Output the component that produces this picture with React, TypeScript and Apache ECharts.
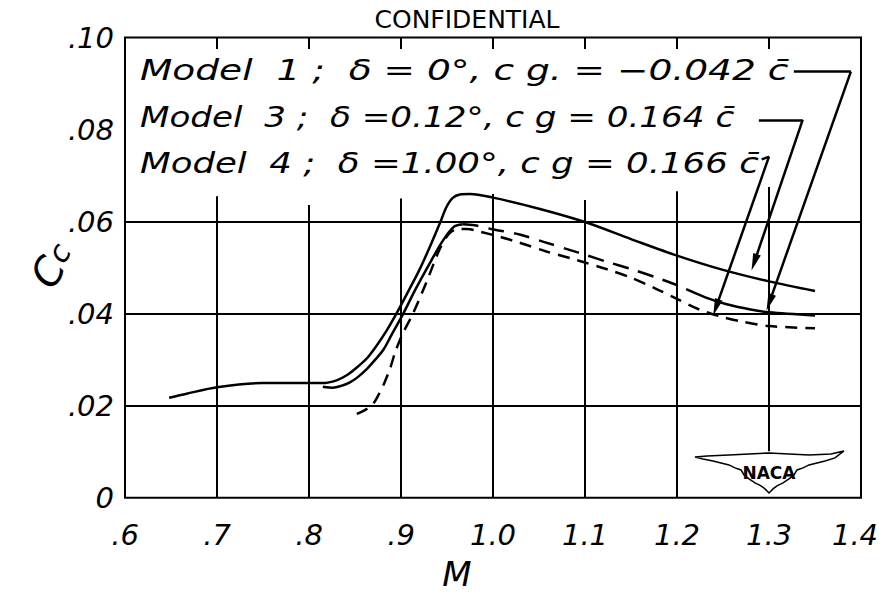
import React, { useEffect, useRef } from 'react';
import * as echarts from 'echarts';

// ---- tick labels ----
const xTickLabels = ['.6', '.7', '.8', '.9', '1.0', '1.1', '1.2', '1.3', '1.4'];
const yTickLabels = ['0', '.02', '.04', '.06', '.08', '.10'];

// ---- curves: [M, Cc] ----
// Model 3 (upper solid)
const model3Curve: [number, number][] = [
  [0.648, 0.0217], [0.667, 0.0226], [0.7, 0.024], [0.75, 0.0249], [0.8, 0.0249], [0.815, 0.0249],
  [0.83, 0.0255], [0.841, 0.0266], [0.852, 0.0283], [0.863, 0.0303], [0.874, 0.0332], [0.884, 0.0362],
  [0.895, 0.04], [0.907, 0.0445], [0.92, 0.0495], [0.932, 0.0548], [0.943, 0.06], [0.949, 0.063],
  [0.956, 0.0651], [0.964, 0.0659], [0.975, 0.066], [1.0, 0.0652], [1.05, 0.0628], [1.1, 0.0599],
  [1.15, 0.0562], [1.2, 0.0526], [1.25, 0.0495], [1.3, 0.047], [1.35, 0.0449],
];
// Model 1 (lower, solid rise, long dashes, solid tail)
const model1Rise: [number, number][] = [
  [0.815, 0.0241], [0.826, 0.0239], [0.835, 0.0243], [0.844, 0.025], [0.853, 0.0262], [0.863, 0.028],
  [0.872, 0.03], [0.881, 0.0322], [0.89, 0.0355], [0.9025, 0.04], [0.915, 0.045], [0.93, 0.0505],
  [0.945, 0.0557], [0.957, 0.0588], [0.967, 0.0594],
];
const model1Middle: [number, number][] = [
  [0.967, 0.0594], [0.98, 0.0592], [1.0, 0.0583], [1.029, 0.0572], [1.055, 0.0556], [1.084, 0.0538],
  [1.1, 0.0528], [1.123, 0.0513], [1.15, 0.0497], [1.178, 0.0478], [1.2, 0.0462], [1.21, 0.0453],
];
const model1Tail: [number, number][] = [
  [1.21, 0.0453], [1.23, 0.0436], [1.253, 0.0421], [1.28, 0.0409], [1.3, 0.0403], [1.35, 0.0396],
];
// Model 4 (short dashes)
const model4Curve: [number, number][] = [
  [0.852, 0.0182], [0.862, 0.0192], [0.87, 0.0205], [0.876, 0.0225], [0.882, 0.025], [0.888, 0.028],
  [0.894, 0.0318], [0.902, 0.0357], [0.913, 0.04], [0.928, 0.047], [0.942, 0.054], [0.952, 0.0573],
  [0.962, 0.0584], [0.972, 0.0584], [0.986, 0.0578], [1.009, 0.0566], [1.029, 0.0554], [1.058, 0.0535],
  [1.085, 0.052], [1.1, 0.0511], [1.123, 0.0497], [1.15, 0.0478], [1.175, 0.0456], [1.2, 0.0432],
  [1.223, 0.041], [1.245, 0.0395], [1.27, 0.0383], [1.3, 0.0373], [1.35, 0.0368],
];

// ---- grid pieces ----
const verticalGridTops: [number, number][] = [
  [0.7, 0.0655], [0.8, 0.0636], [0.9, 0.065], [1.0, 0.066], [1.1, 0.0647], [1.2, 0.0666],
];
const gridAt13: [number, number] = [0.0101, 0.0675];
const horizontalGrid = [0.02, 0.04, 0.06];
const topTicks = [0.7, 0.8, 0.9, 1.0, 1.1, 1.2, 1.3];
const topTickDepth = 0.0025;

// ---- leader lines from labels to curves [M, Cc] ----
const model1Leader: [number, number][] = [[1.327, 0.0926], [1.389, 0.0926], [1.2975, 0.0408]];
const model3Leader: [number, number][] = [[1.289, 0.0821], [1.3366, 0.0821], [1.2812, 0.0495]];
const model4Leader: [number, number][] = [[1.292, 0.0735], [1.3, 0.0741], [1.2395, 0.0397]];

const annotationTexts = [
  'Model  1 ;  δ = 0°, c g. = −0.042 c\u0304',
  'Model  3 ;  δ =0.12°, c g = 0.164 c\u0304',
  'Model  4 ;  δ =1.00°, c g = 0.166 c\u0304',
];
const titleText = 'CONFIDENTIAL';
const logoText = 'NACA';
const logoAnchor: [number, number] = [1.3, 0.0056];

const HAND = '"DejaVu Sans", sans-serif';

function leaderSegments(points: [number, number][]) {
  const segs: any[] = [];
  for (let i = 0; i < points.length - 1; i++) {
    const [x1, y1] = points[i];
    let [x2, y2] = points[i + 1];
    const last = i === points.length - 2;
    if (last) {
      const dxp = (x2 - x1) * 920;
      const dyp = (y2 - y1) * 4602;
      const len = Math.hypot(dxp, dyp);
      const back = 8;
      x2 = x2 - (dxp / len) * back / 920;
      y2 = y2 - (dyp / len) * back / 4602;
    }
    segs.push([
      { coord: [x1, y1], symbol: 'none' },
      last
        ? { coord: [x2, y2], symbol: 'triangle', symbolSize: [8, 17] }
        : { coord: [x2, y2], symbol: 'none' },
    ]);
  }
  return segs;
}

export default function App() {
  const ref = useRef<HTMLDivElement>(null);
  useEffect(() => {
    document.body.style.margin = '0';
    if (!ref.current) return;
    const chart = echarts.init(ref.current, null, { renderer: 'svg' });

    const gridLines: any[] = [
      ...verticalGridTops.map(([m, top]) => [{ coord: [m, 0] }, { coord: [m, top] }]),
      [{ coord: [1.3, gridAt13[0]] }, { coord: [1.3, gridAt13[1]] }],
      ...horizontalGrid.map((c) => [{ coord: [0.6, c] }, { coord: [1.4, c] }]),
      ...topTicks.map((m) => [{ coord: [m, 0.1] }, { coord: [m, 0.1 - topTickDepth] }]),
    ];

    const leaders: any[] = [
      ...leaderSegments(model1Leader),
      ...leaderSegments(model3Leader),
      ...leaderSegments(model4Leader),
    ];

    const baseLine = (data: [number, number][], type: any, extra: any = {}) => ({
      type: 'line',
      data,
      showSymbol: false,
      smooth: 0.3,
      silent: true,
      lineStyle: { color: '#000', width: 2.5, type },
      emphasis: { disabled: true },
      ...extra,
    });

    const option: any = {
      animation: false,
      backgroundColor: '#fff',
      grid: {
        left: 125, right: 21, top: 37.5, bottom: 98.3,
        outerBoundsMode: 'none', containLabel: false,
        show: true, borderColor: '#000', borderWidth: 2, backgroundColor: 'transparent',
      },
      xAxis: {
        type: 'value', min: 0.6, max: 1.4, interval: 0.1,
        axisLine: { show: false }, axisTick: { show: false }, splitLine: { show: false },
        axisLabel: {
          margin: 23, color: '#000', fontFamily: HAND, fontStyle: 'italic', fontSize: 29,
          formatter: (v: number) => {
            const i = Math.round(v * 10) - 6;
            const t = xTickLabels[i] ?? '';
            return i === xTickLabels.length - 1 ? `{last|${t}}` : t;
          },
          rich: {
            last: {
              fontFamily: HAND, fontStyle: 'italic', fontSize: 29, color: '#000',
              padding: [0, 12, 0, 0],
            },
          },
        },
        name: 'M', nameLocation: 'middle', nameGap: 59,
        nameTextStyle: {
          color: '#000', fontFamily: HAND, fontStyle: 'italic', fontSize: 34, lineHeight: 34,
          padding: [0, 72, 0, 0],
        },
      },
      yAxis: {
        type: 'value', min: 0, max: 0.1, interval: 0.02,
        axisLine: { show: false }, axisTick: { show: false }, splitLine: { show: false },
        axisLabel: {
          margin: 11, color: '#000', fontFamily: HAND, fontStyle: 'italic', fontSize: 29,
          formatter: (v: number) => yTickLabels[Math.round(v / 0.02)] ?? '',
        },
      },
      series: [
        baseLine(model3Curve, 'solid', {
          name: 'Model 3',
          markLine: {
            silent: true, symbol: 'none', label: { show: false },
            lineStyle: { color: '#000', width: 2, type: 'solid' },
            emphasis: { disabled: true },
            data: gridLines,
          },
        }),
        baseLine(model1Rise, 'solid', { name: 'Model 1' }),
        baseLine(model1Middle, [16, 10], { name: 'Model 1' }),
        baseLine(model1Tail, 'solid', {
          name: 'Model 1',
          markLine: {
            silent: true, label: { show: false },
            lineStyle: { color: '#000', width: 2.5, type: 'solid' },
            itemStyle: { color: '#000' },
            emphasis: { disabled: true },
            data: leaders,
          },
        }),
        baseLine(model4Curve, [12, 8], { name: 'Model 4' }),
      ],
    };
    chart.setOption(option);

    const [lx, ly] = chart.convertToPixel({ gridIndex: 0 }, logoAnchor) as number[];
    const wing = [
      [-74, -15], [-62, -16], [-40, -17], [-20, -18], [0, -19], [20, -18], [40, -17], [62, -18], [75, -21],
      [66, -14], [56, -11], [48, -9], [40, -7], [34, -4], [28, -2], [25, 3], [20, 7], [14, 11], [8, 14],
      [4, 17], [0, 21], [-4, 17], [-8, 14], [-14, 11], [-20, 7], [-25, 3], [-28, -2], [-34, -4], [-40, -7],
      [-48, -9], [-56, -11], [-66, -13],
    ];
    const textPlacement = [
      { x: 140, y: 70, sx: 1.34 },
      { x: 140, y: 117, sx: 1.22 },
      { x: 140, y: 163, sx: 1.27 },
    ];
    chart.setOption({
      graphic: [
        {
          type: 'text', x: 467, y: 19,
          style: {
            text: titleText, align: 'center', verticalAlign: 'middle', fill: '#000',
            fontFamily: '"DejaVu Sans", sans-serif', fontSize: 25,
          },
        },
        ...annotationTexts.map((t, i) => ({
          type: 'text', x: textPlacement[i].x, y: textPlacement[i].y, scaleX: textPlacement[i].sx,
          style: {
            text: t, align: 'left', verticalAlign: 'middle', fill: '#000',
            fontFamily: HAND, fontStyle: 'italic', fontSize: 28,
          },
        })),
        {
          type: 'text', x: 52, y: 265, rotation: Math.PI / 3,
          style: {
            text: '{a|C}{b|c}', align: 'center', verticalAlign: 'middle', fill: '#000',
            rich: {
              a: { fontFamily: HAND, fontStyle: 'italic', fontSize: 40 },
              b: { fontFamily: HAND, fontStyle: 'italic', fontSize: 30 },
            },
          },
        },
        {
          type: 'group', x: lx, y: ly,
          children: [
            { type: 'polygon', shape: { points: wing }, style: { fill: '#fff', stroke: '#000', lineWidth: 1.5 } },
            {
              type: 'text', x: 0, y: 1,
              style: {
                text: logoText, align: 'center', verticalAlign: 'middle', fill: '#000',
                fontFamily: '"DejaVu Sans", sans-serif', fontWeight: 'bold', fontSize: 17,
              },
            },
          ],
        },
      ],
    });

    return () => chart.dispose();
  }, []);
  return <div ref={ref} style={{ width: 882, height: 596 }} />;
}
